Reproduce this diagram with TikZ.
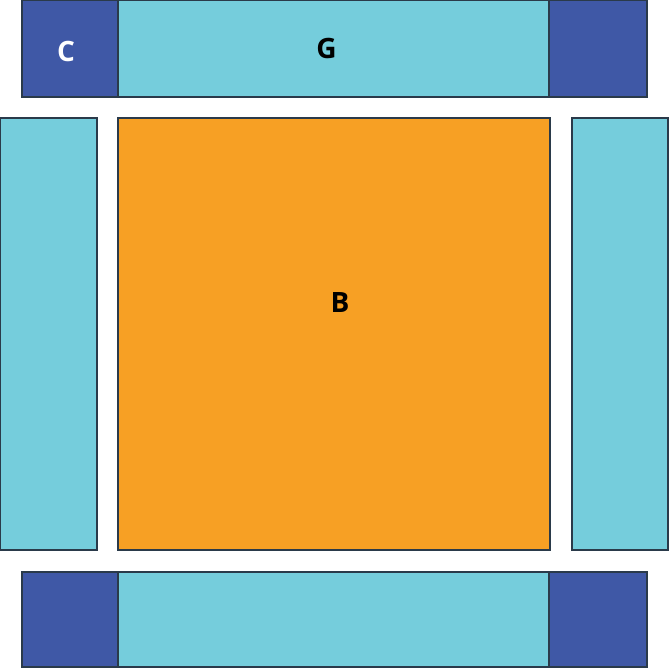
\documentclass[tikz,border=0pt]{standalone}
\usepackage{fontspec}
\setmainfont{Open Sans}
\definecolor{darkb}{HTML}{3F58A6}
\definecolor{lightb}{HTML}{75CDDC}
\definecolor{orng}{HTML}{F7A024}
\definecolor{edge}{HTML}{2A3A4A}
\begin{document}
\begin{tikzpicture}[x=1pt,y=-1pt,
  box/.style={draw=edge,line width=1.2pt},
  lbl/.style={font=\fontsize{28}{30}\selectfont\bfseries,inner sep=0pt}]
\useasboundingbox (0,0) rectangle (670,671);
% top bar
\fill[lightb] (118,0) rectangle (549,97);
\fill[darkb] (22,0) rectangle (118,97);
\fill[darkb] (549,0) rectangle (647,97);
\draw[box] (22,0) rectangle (647,97);
\draw[box] (118,0) -- (118,97);
\draw[box] (549,0) -- (549,97);
% bottom bar
\fill[lightb] (118,572) rectangle (549,667);
\fill[darkb] (22,572) rectangle (118,667);
\fill[darkb] (549,572) rectangle (647,667);
\draw[box] (22,572) rectangle (647,667);
\draw[box] (118,572) -- (118,667);
\draw[box] (549,572) -- (549,667);
% side bars
\draw[box,fill=lightb] (0,118) rectangle (97,550);
\draw[box,fill=lightb] (572,118) rectangle (668,550);
% center
\draw[box,fill=orng] (118,118) rectangle (550,550);
% labels
\node[lbl,text=white] (c) at (66,52) {C};
\node[lbl,text=black] (g) at (326.5,49) {G};
\node[lbl,text=black] (b) at (340,303) {B};
\end{tikzpicture}
\end{document}
